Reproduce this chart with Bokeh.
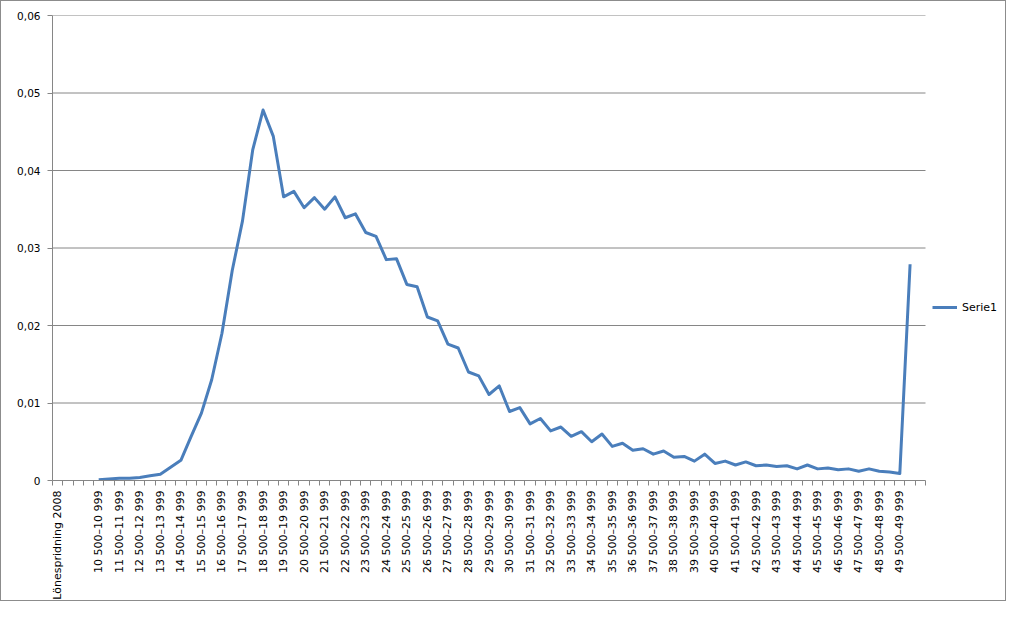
import math
from bokeh.plotting import figure
from bokeh.models import (Range1d, FixedTicker, CustomJSTickFormatter, Legend, LegendItem,
                          ColumnDataSource)
from bokeh.embed import file_html
from bokeh.resources import INLINE

# ---- data -------------------------------------------------------------
title_cat = "Lönespridning 2008"
bin_starts = list(range(10500, 50000, 500))  # 10 500 ... 49 500
categories = [title_cat, "", "", ""] + [
    f"{s // 1000} {s % 1000:03d}–{(s + 499) // 1000} {(s + 499) % 1000:03d}" for s in bin_starts
] + ["50 000–", ""]

serie1 = [
    0.0001, 0.0002, 0.0003, 0.0003, 0.0004, 0.0006, 0.0008, 0.0017, 0.0026,   # 10 500 .. 14 500
    0.0057, 0.0087, 0.0130, 0.0190, 0.0271, 0.0335, 0.0427, 0.0478, 0.0444,   # 15 000 .. 19 000
    0.0366, 0.0373, 0.0352, 0.0365, 0.0350, 0.0366, 0.0339, 0.0344, 0.0320,   # 19 500 .. 23 500
    0.0315, 0.0285, 0.0286, 0.0253, 0.0250, 0.0211, 0.0206, 0.0176, 0.0171,   # 24 000 .. 28 000
    0.0140, 0.0135, 0.0111, 0.0122, 0.0089, 0.0094, 0.0073, 0.0080, 0.0064,   # 28 500 .. 32 500
    0.0069, 0.0057, 0.0063, 0.0050, 0.0060, 0.0044, 0.0048, 0.0039, 0.0041,   # 33 000 .. 37 000
    0.0034, 0.0038, 0.0030, 0.0031, 0.0025, 0.0034, 0.0022, 0.0025, 0.0020,   # 37 500 .. 41 500
    0.0024, 0.0019, 0.0020, 0.0018, 0.0019, 0.0015, 0.0020, 0.0015, 0.0016,   # 42 000 .. 46 000
    0.0014, 0.0015, 0.0012, 0.0015, 0.0012, 0.0011, 0.0009, 0.0279,           # 46 500 .. 50 000
]
first_data_index = 4

y_ticks = [0, 0.01, 0.02, 0.03, 0.04, 0.05, 0.06]

# ---- layout constants --------------------------------------------------
W, H = 1006, 601
LEFT, RIGHT, TOP, BOTTOM = 51, 0, 14, 116
FRAME_W = W - LEFT - RIGHT
CAT_AREA_W = 873          # pixel width of the category axis inside the frame

n = len(categories)
x_end = n * FRAME_W / CAT_AREA_W   # frame extends right to hold the legend

FONT = "DejaVu Sans"
GRID = "#868686"

p = figure(width=W, height=H, output_backend="svg", toolbar_location=None,
           x_range=Range1d(0, x_end), y_range=Range1d(0, 0.06),
           min_border_left=LEFT, min_border_right=RIGHT,
           min_border_top=TOP, min_border_bottom=BOTTOM)
p.outline_line_color = None
p.background_fill_color = "white"
p.border_fill_color = "white"
p.styles = {"border": "1px solid #8c8c8c"}

# horizontal gridlines limited to the category area
grid_src = ColumnDataSource(dict(x0=[0] * (len(y_ticks) - 1), x1=[n] * (len(y_ticks) - 1),
                                 y=y_ticks[1:]))
p.segment(x0="x0", x1="x1", y0="y", y1="y", source=grid_src, line_color=GRID, line_width=1)

xs = [first_data_index + i + 0.5 for i in range(len(serie1))]
src = ColumnDataSource(dict(x=xs, y=serie1))
r = p.line("x", "y", source=src, line_color="#4A7EBB", line_width=3, line_join="round")

# y axis
p.yaxis.ticker = FixedTicker(ticks=y_ticks, minor_ticks=[])
p.yaxis.formatter = CustomJSTickFormatter(
    code="return tick == 0 ? '0' : tick.toFixed(2).replace('.', ',');")
p.yaxis.axis_line_color = GRID
p.yaxis.major_tick_line_color = GRID
p.yaxis.major_tick_out = 5
p.yaxis.major_tick_in = 0
p.yaxis.minor_tick_line_color = None
p.yaxis.major_label_text_font = FONT
p.yaxis.major_label_text_font_size = "10.5px"
p.yaxis.major_label_text_color = "black"
p.yaxis.major_label_standoff = 7

# x axis
label_ticks = [i + 0.5 for i in range(0, n, 2)]
p.xaxis.bounds = (0, n)
p.xaxis.ticker = FixedTicker(ticks=label_ticks, minor_ticks=list(range(0, n + 1)))
p.xaxis.formatter = CustomJSTickFormatter(args=dict(labels=categories),
                                          code="return labels[Math.floor(tick)] || '';")
p.xaxis.major_label_orientation = math.pi / 2
p.xaxis.axis_line_color = GRID
p.xaxis.major_tick_line_color = None
p.xaxis.major_tick_out = 0
p.xaxis.major_tick_in = 0
p.xaxis.minor_tick_line_color = GRID
p.xaxis.minor_tick_out = 5
p.xaxis.minor_tick_in = 0
p.xaxis.major_label_text_font = FONT
p.xaxis.major_label_text_font_size = "11px"
p.xaxis.major_label_text_color = "black"
p.xaxis.major_label_standoff = 5

p.xgrid.grid_line_color = None
p.ygrid.grid_line_color = None

# legend (inside the extended frame, right of the category area)
legend = Legend(items=[LegendItem(label="Serie1", renderers=[r])],
                location=(880, 163), border_line_color=None, background_fill_alpha=0,
                label_text_font=FONT, label_text_font_size="11px", label_text_color="black",
                glyph_width=25, label_standoff=5, padding=3, margin=0)
p.add_layout(legend, "center")

open("out.html", "w").write(file_html(p, INLINE))
